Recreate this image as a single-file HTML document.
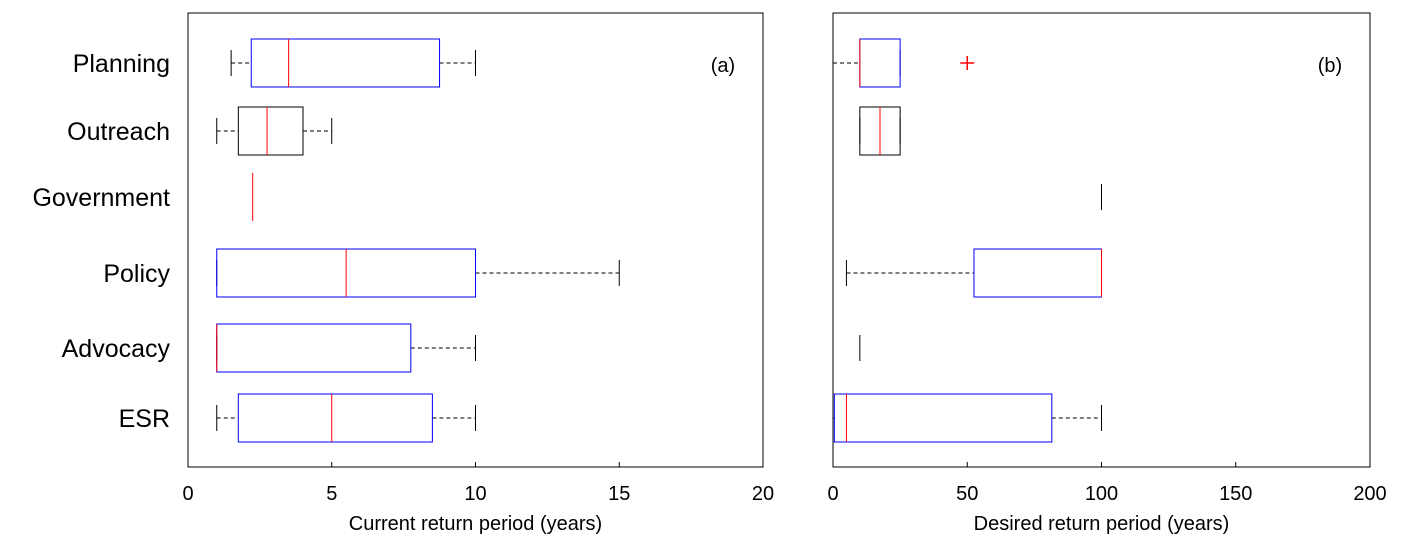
<!DOCTYPE html>
<html><head><meta charset="utf-8"><style>
body{margin:0;background:#fff;}
svg text{font-family:"Liberation Sans",sans-serif;fill:#000;}
</style></head><body>
<svg id="c" width="1403" height="548" xmlns="http://www.w3.org/2000/svg"></svg>
<script>
const categories=["Planning","Outreach","Government","Policy","Advocacy","ESR"];
const aLo=[1.5,1,2.25,1,1,1];
const aQ1=[2.2,1.75,2.25,1,1,1.75];
const aMed=[3.5,2.75,2.25,5.5,1,5];
const aQ3=[8.75,4,2.25,10,7.75,8.5];
const aHi=[10,5,2.25,15,10,10];
const aColor=["blue","black","none","blue","blue","blue"];
const bLo=[0,10,100,5,10,0];
const bQ1=[10,10,100,52.5,10,0.5];
const bMed=[10,17.5,100,100,10,5];
const bQ3=[25,25,100,100,10,81.5];
const bHi=[25,25,100,100,10,100];
const bColor=["blue","black","none","blue","none","blue"];
const bOutX=[50];const bOutRow=[0];
const aTicks=[0,5,10,15,20];
const bTicks=[0,50,100,150,200];
const rowY=[63,131,197,273,348,418];
const svg=document.getElementById('c');
const NS="http://www.w3.org/2000/svg";
function mk(t,at,name){const e=document.createElementNS(NS,t);for(const k in at)e.setAttribute(k,at[k]);


svg.appendChild(e);return e;}
function panel(x0,x1,max,lo,q1,med,q3,hi,col,ticks,xlabel,tag,pname){
 const sx=v=>x0+(v/max)*(x1-x0);
 mk('rect',{x:x0,y:13,width:x1-x0,height:454,fill:'none',stroke:'#000','stroke-width':1},pname+'-frame');
 for(let i=0;i<categories.length;i++){
  const y=rowY[i],h=24;
  if(hi[i]>q3[i]) mk('line',{x1:sx(q3[i]),x2:sx(hi[i]),y1:y,y2:y,stroke:'#000','stroke-dasharray':'4,3'},pname+'-whisker-high');
  if(lo[i]<q1[i]) mk('line',{x1:sx(lo[i]),x2:sx(q1[i]),y1:y,y2:y,stroke:'#000','stroke-dasharray':'4,3'},pname+'-whisker-low');
  if(col[i]!=='none'||lo[i]!==hi[i]){
   mk('line',{x1:sx(hi[i]),x2:sx(hi[i]),y1:y-13,y2:y+13,stroke:'#000'},pname+'-cap-high');
   mk('line',{x1:sx(lo[i]),x2:sx(lo[i]),y1:y-13,y2:y+13,stroke:'#000'},pname+'-cap-low');
  } else if(med[i]!==q1[i]||true){
   if(pname==='b') mk('line',{x1:sx(lo[i]),x2:sx(lo[i]),y1:y-13,y2:y+13,stroke:'#000'},pname+'-cap');
  }
  if(col[i]!=='none') mk('rect',{x:sx(q1[i]),y:y-h,width:sx(q3[i])-sx(q1[i]),height:2*h,fill:'none',stroke:col[i]},pname+'-box-'+categories[i].toLowerCase());
  if(!(pname==='b'&&col[i]==='none')) mk('line',{x1:sx(med[i]),x2:sx(med[i]),y1:y-h,y2:y+h,stroke:'red'},pname+'-median-'+categories[i].toLowerCase());
 }
 ticks.forEach(t=>{mk('line',{x1:sx(t),x2:sx(t),y1:467,y2:462,stroke:'#000'},pname+'-tick');
  const tx=mk('text',{x:sx(t),y:500,'font-size':20,'text-anchor':'middle'},pname+'-tick-label');tx.textContent=t;});
 const xl=mk('text',{x:(x0+x1)/2,y:530,'font-size':20,'text-anchor':'middle'},pname+'-x-axis-title');xl.textContent=xlabel;
 const tg=mk('text',{x:x1-40,y:72,'font-size':20,'text-anchor':'middle'},pname+'-panel-tag');tg.textContent=tag;
 return sx;
}
panel(188,763,20,aLo,aQ1,aMed,aQ3,aHi,aColor,aTicks,"Current return period (years)","(a)","a");
const sxb=panel(833,1370,200,bLo,bQ1,bMed,bQ3,bHi,bColor,bTicks,"Desired return period (years)","(b)","b");
bOutX.forEach((v,i)=>{const x=sxb(v),y=rowY[bOutRow[i]];
 mk('path',{d:`M${x-7} ${y}H${x+7}M${x} ${y-7}V${y+7}`,stroke:'red','stroke-width':1.5},'b-outlier');});
categories.forEach((c,i)=>{const t=mk('text',{x:170,y:rowY[i]+9,'font-size':25,'text-anchor':'end'},'y-label-'+c.toLowerCase());t.textContent=c;});
</script>
</body></html>
